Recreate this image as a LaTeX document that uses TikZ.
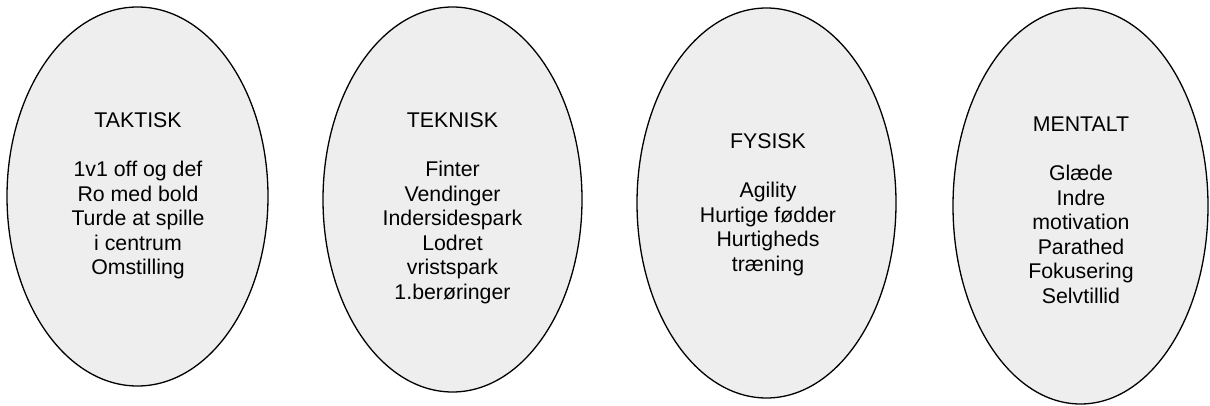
\documentclass[tikz,border=0pt]{standalone}
\usepackage{xcolor}
\usepackage{fontspec}
\setmainfont{Liberation Sans}
\usetikzlibrary{shapes}

\definecolor{feltgray}{HTML}{EEEEEE}

\begin{document}
\begin{tikzpicture}[x=1pt, y=-1pt,
    felt/.style={draw, ellipse, fill=feltgray, line width=1.3pt, inner sep=0pt},
    felttekst/.style={anchor=base, inner sep=0pt, font=\fontsize{21.3}{24.5}\selectfont}]
  \useasboundingbox (0,0) rectangle (1210,406);

  \node[felt, minimum width=261pt, minimum height=379pt] (taktisk) at (137.5,196.5) {};
  \node[felt, minimum width=259pt, minimum height=385pt] (teknisk) at (452.5,199.5) {};
  \node[felt, minimum width=259pt, minimum height=390pt] (fysisk) at (766.5,203) {};
  \node[felt, minimum width=255pt, minimum height=396pt] (mentalt) at (1080.5,206) {};

  \node[felttekst] (taktisk-tekst) at (138,128) {
      \begin{tabular}[t]{c}
          TAKTISK \\
          \\
          1v1 off og def \\
          Ro med bold \\
          Turde at spille \\
          i centrum \\
          Omstilling
      \end{tabular}
  };
  \node[felttekst] (teknisk-tekst) at (452.5,128) {
      \begin{tabular}[t]{c}
          TEKNISK \\
          \\
          Finter \\
          Vendinger \\
          Indersidespark \\
          Lodret \\
          vristspark \\
          1.berøringer
      \end{tabular}
  };
  \node[felttekst] (fysisk-tekst) at (768,149) {
      \begin{tabular}[t]{c}
          FYSISK \\
          \\
          Agility \\
          Hurtige fødder \\
          Hurtigheds \\
          træning
      \end{tabular}
  };
  \node[felttekst] (mentalt-tekst) at (1081,132) {
      \begin{tabular}[t]{c}
          MENTALT \\
          \\
          Glæde \\
          Indre \\
          motivation \\
          Parathed \\
          Fokusering \\
          Selvtillid
      \end{tabular}
  };
\end{tikzpicture}
\end{document}
